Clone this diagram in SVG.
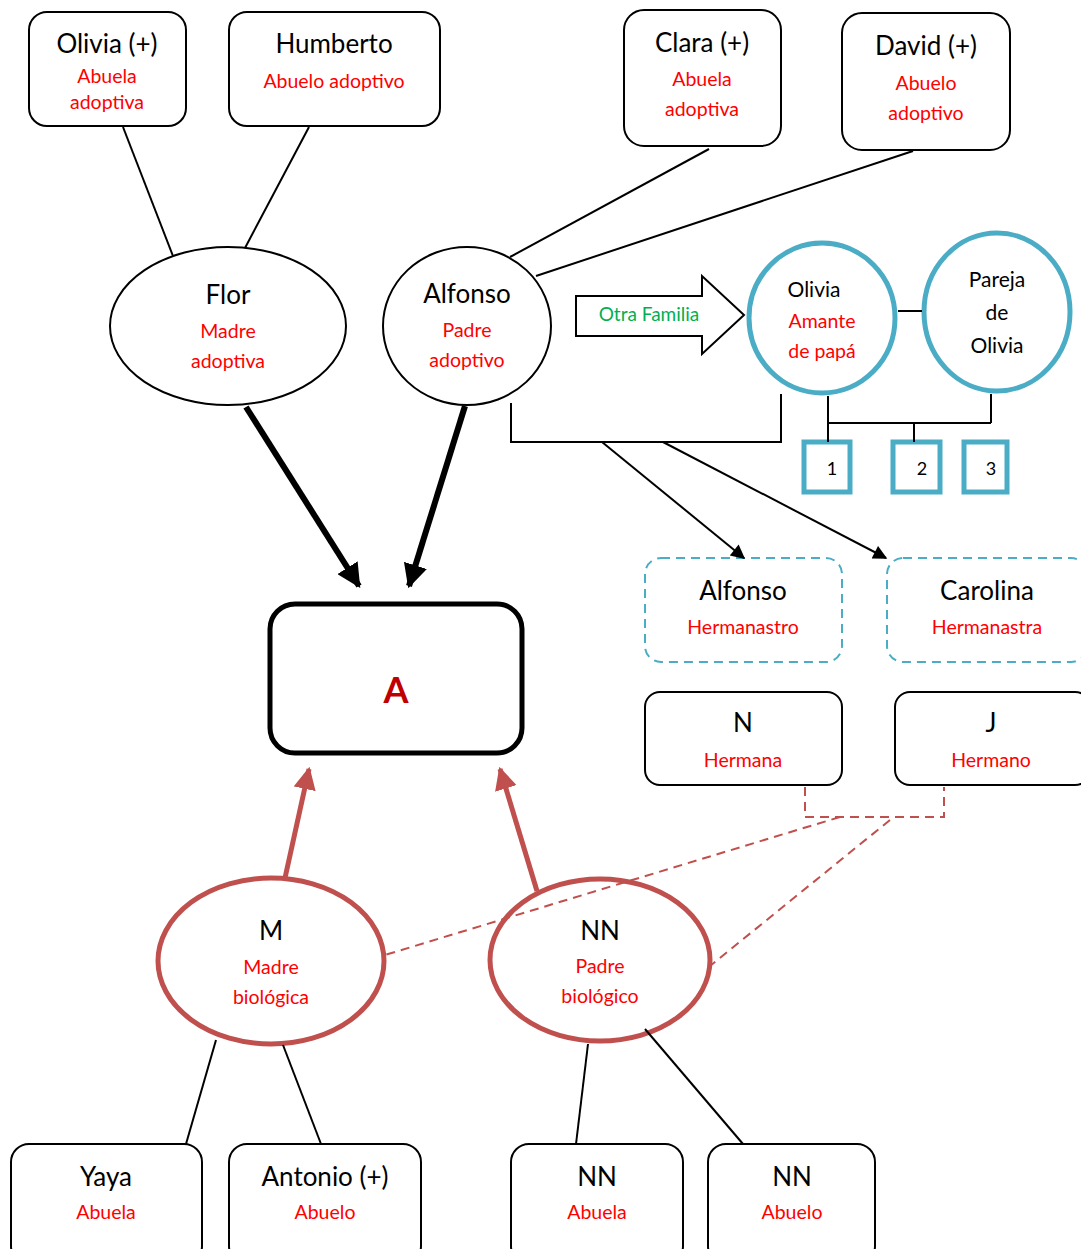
<svg xmlns="http://www.w3.org/2000/svg" width="1081" height="1249" viewBox="0 0 1081 1249">
<style>
text{font-family:Lato,"Liberation Sans",sans-serif;text-anchor:middle;dominant-baseline:middle}
.n{font-size:26px;fill:#000}
.m{font-size:21px;fill:#000}
.r{font-size:19.5px;fill:#FF0000}
.box{fill:#fff;stroke:#000;stroke-width:2}
.ln{stroke:#000;stroke-width:2;fill:none}
.blue{fill:#fff;stroke:#4BACC6;stroke-width:5}
.dash{fill:#fff;stroke:#4BACC6;stroke-width:2;stroke-dasharray:9,6}
.red{fill:#fff;stroke:#C0504D;stroke-width:5}
.rdash{stroke:#C0504D;stroke-width:2;stroke-dasharray:9,6;fill:none}
</style>
<defs>
<marker id="ah" viewBox="0 0 10 10" refX="9" refY="5" markerWidth="16" markerHeight="14" markerUnits="userSpaceOnUse" orient="auto"><path d="M0,0L10,5L0,10z" fill="#000"/></marker>
<marker id="ahb" viewBox="0 0 10 10" refX="9" refY="5" markerWidth="4" markerHeight="4" orient="auto"><path d="M0,0L10,5L0,10z" fill="#000"/></marker>
<marker id="ahr" viewBox="0 0 10 10" refX="9" refY="5" markerWidth="4.5" markerHeight="4.5" orient="auto"><path d="M0,0L10,5L0,10z" fill="#C0504D"/></marker>
</defs>
<rect width="1081" height="1249" fill="#fff"/>
<g id="olivia-abuela"><rect class="box" x="29" y="12" width="157" height="114" rx="18"/><text class="n" x="107" y="46">Olivia (+)</text><text class="r" x="107" y="78">Abuela</text><text class="r" x="107" y="104">adoptiva</text></g>
<g id="humberto"><rect class="box" x="229" y="12" width="211" height="114" rx="18"/><text class="n" x="334" y="46">Humberto</text><text class="r" x="334" y="83">Abuelo adoptivo</text></g>
<g id="clara"><rect class="box" x="624" y="10" width="157" height="136" rx="20"/><text class="n" x="702" y="45">Clara (+)</text><text class="r" x="702" y="81">Abuela</text><text class="r" x="702" y="111">adoptiva</text></g>
<g id="david"><rect class="box" x="842" y="13" width="168" height="137" rx="20"/><text class="n" x="926" y="48">David (+)</text><text class="r" x="926" y="85">Abuelo</text><text class="r" x="926" y="115">adoptivo</text></g>
<g id="flor"><ellipse class="box" cx="228" cy="326" rx="118" ry="79"/><text class="n" x="228" y="297">Flor</text><text class="r" x="228" y="333">Madre</text><text class="r" x="228" y="363">adoptiva</text></g>
<g id="alfonso-padre"><ellipse class="box" cx="467" cy="326" rx="84" ry="79"/><text class="n" x="467" y="296">Alfonso</text><text class="r" x="467" y="332">Padre</text><text class="r" x="467" y="362">adoptivo</text></g>
<g id="otra-familia"><polygon points="576,296 702,296 702,276 744,315 702,354 702,336 576,336" fill="#fff" stroke="#000" stroke-width="2"/><text x="649" y="316" font-size="19" fill="#00B050">Otra Familia</text></g>
<g id="olivia-amante"><ellipse class="blue" cx="822" cy="318" rx="73" ry="75"/><text class="m" x="814" y="292">Olivia</text><text class="r" x="822" y="323">Amante</text><text class="r" x="822" y="353">de papá</text></g>
<g id="pareja"><ellipse class="blue" cx="997" cy="312" rx="73" ry="79"/><text class="m" x="997" y="282">Pareja</text><text class="m" x="997" y="315">de</text><text class="m" x="997" y="348">Olivia</text></g>
<g id="hijo1"><rect class="blue" x="804" y="442" width="46" height="50"/><text x="832" y="470" font-size="18">1</text></g>
<g id="hijo2"><rect class="blue" x="893" y="442" width="47" height="50"/><text x="922" y="470" font-size="18">2</text></g>
<g id="hijo3"><rect class="blue" x="964" y="442" width="43" height="50"/><text x="991" y="470" font-size="18">3</text></g>
<g id="alfonso-hermanastro"><rect class="dash" x="645" y="558" width="197" height="104" rx="16"/><text class="n" x="743" y="593">Alfonso</text><text class="r" x="743" y="629">Hermanastro</text></g>
<g id="carolina"><rect class="dash" x="887" y="558" width="200" height="104" rx="16"/><text class="n" x="987" y="593">Carolina</text><text class="r" x="987" y="629">Hermanastra</text></g>
<g id="n-hermana"><rect class="box" x="645" y="692" width="197" height="93" rx="15"/><text class="n" x="743" y="725">N</text><text class="r" x="743" y="762">Hermana</text></g>
<g id="j-hermano"><rect class="box" x="895" y="692" width="195" height="93" rx="15"/><text class="n" x="991" y="725">J</text><text class="r" x="991" y="762">Hermano</text></g>
<g id="a"><rect x="270" y="604" width="252" height="149" rx="25" fill="#fff" stroke="#000" stroke-width="5"/><text x="396" y="694" font-size="36" font-weight="bold" fill="#C00000">A</text></g>
<g id="m"><ellipse class="red" cx="271" cy="961" rx="113" ry="83"/><text class="n" x="271" y="933">M</text><text class="r" x="271" y="969">Madre</text><text class="r" x="271" y="999">biológica</text></g>
<g id="nn-padre"><ellipse class="red" cx="600" cy="960" rx="110" ry="81"/><text class="n" x="600" y="933">NN</text><text class="r" x="600" y="968">Padre</text><text class="r" x="600" y="998">biológico</text></g>
<g id="yaya"><rect class="box" x="11" y="1144" width="191" height="120" rx="18"/><text class="n" x="106" y="1179">Yaya</text><text class="r" x="106" y="1214">Abuela</text></g>
<g id="antonio"><rect class="box" x="229" y="1144" width="192" height="120" rx="18"/><text class="n" x="325" y="1179">Antonio (+)</text><text class="r" x="325" y="1214">Abuelo</text></g>
<g id="nn-abuela"><rect class="box" x="511" y="1144" width="172" height="120" rx="18"/><text class="n" x="597" y="1179">NN</text><text class="r" x="597" y="1214">Abuela</text></g>
<g id="nn-abuelo"><rect class="box" x="708" y="1144" width="167" height="120" rx="18"/><text class="n" x="792" y="1179">NN</text><text class="r" x="792" y="1214">Abuelo</text></g>
<g id="connectors">
<line class="ln" x1="123" y1="127" x2="173" y2="256"/>
<line class="ln" x1="309" y1="127" x2="245" y2="248"/>
<line class="ln" x1="709" y1="149" x2="510" y2="257"/>
<line class="ln" x1="913" y1="151" x2="536" y2="276"/>
<line class="ln" x1="898" y1="311" x2="922" y2="311"/>
<path class="ln" d="M828,396V442M991,394V423M828,423H991M914,423V442"/>
<path class="ln" d="M511,403V442H781V394"/>
<line class="ln" x1="602" y1="442" x2="744" y2="558" marker-end="url(#ah)"/>
<line class="ln" x1="663" y1="442" x2="886" y2="558" marker-end="url(#ah)"/>
<line x1="246" y1="407" x2="359" y2="586" stroke="#000" stroke-width="6" marker-end="url(#ahb)"/>
<line x1="465" y1="406" x2="409" y2="586" stroke="#000" stroke-width="6" marker-end="url(#ahb)"/>
<line x1="285" y1="878" x2="309" y2="769" stroke="#C0504D" stroke-width="5" marker-end="url(#ahr)"/>
<line x1="537" y1="891" x2="500" y2="769" stroke="#C0504D" stroke-width="5" marker-end="url(#ahr)"/>
<path class="rdash" d="M805,787V817H944V787"/>
<line class="rdash" x1="840" y1="817" x2="385" y2="955"/>
<line class="rdash" x1="890" y1="820" x2="710" y2="966"/>
<line class="ln" x1="216" y1="1040" x2="186" y2="1144"/>
<line class="ln" x1="283" y1="1045" x2="321" y2="1144"/>
<line class="ln" x1="588" y1="1044" x2="576" y2="1144"/>
<line class="ln" x1="645" y1="1029" x2="743" y2="1144"/>
</g>
</svg>
